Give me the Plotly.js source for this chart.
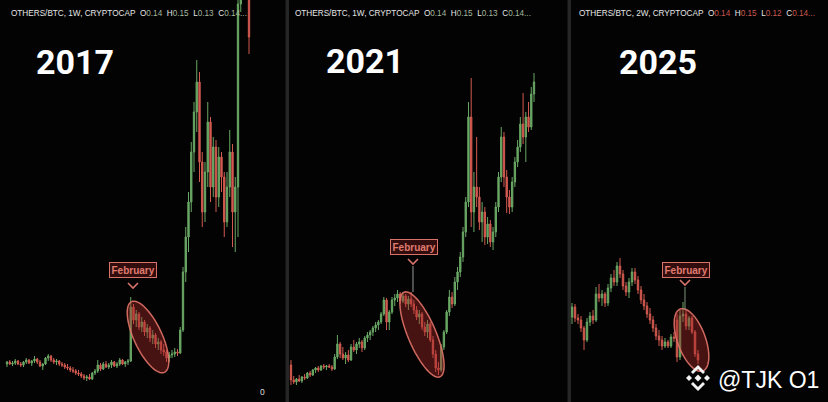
<!DOCTYPE html>
<html>
<head>
<meta charset="utf-8">
<script src="https://cdn.plot.ly/plotly-3.0.1.min.js"></script>
<style>
  html, body { margin: 0; padding: 0; background: #000; }
  #chart { width: 828px; height: 402px; }
</style>
</head>
<body>
<div id="chart"></div>
<script>
'use strict';

// values are read as height above the bottom edge of the picture
const p1Open = [38,40,38,39,41,38,37,40,42,39, 41,43,40,36,38,44,46,42,40,41, 38,37,35,34,32,31,29,28,26,24,
  25,23,29,31,37,33,38,35,37,40, 36,38,42,38,40,41,95,82,88,75, 80,70,74,64,67,58,60,52,50,44,
  47,48,50,49,72,130,165,200,250,290, 320,240,190,230,280,215,255,205,245,225, 180,215,250,190,215,398,450,470,440];
const p1High = [41,42,41,43,42,40,41,44,43,42, 46,44,42,39,45,48,47,44,43,42, 40,39,38,36,35,33,32,30,28,27,
  28,30,33,42,39,40,41,39,42,41, 40,44,43,41,43,105,98,92,90,85, 82,78,76,72,69,64,62,58,52,50,
  52,54,53,75,135,175,210,260,300,342, 330,250,240,300,285,265,262,255,250,230, 230,272,258,225,420,470,480,490,450];
const p1Low = [35,37,36,37,37,35,35,38,38,36, 39,38,35,32,37,41,40,38,37,36, 35,33,32,30,29,27,26,24,22,21,
  22,22,27,29,31,32,34,33,34,35, 34,36,37,35,37,40,78,75,72,70, 66,64,60,58,54,52,48,46,40,40,
  44,45,46,48,70,120,150,190,230,270, 220,175,180,215,200,205,190,195,210,165, 175,205,155,150,165,390,430,420,348];
const p1Close = [40,38,39,41,38,37,40,42,39,41, 43,40,36,38,44,46,42,40,41,38, 37,35,34,32,31,29,28,26,24,25,
  23,29,31,37,33,38,35,37,40,36, 38,42,38,40,41,95,82,88,75,80, 70,74,64,67,58,60,52,50,44,47,
  48,50,49,72,130,165,200,250,290,320, 240,190,230,280,215,255,205,245,225,180, 215,250,190,215,398,450,470,430,365];

const p2Open = [37,22,20,23,21,25,24,29,27,32, 34,32,36,35,36,35,33,45,58,48, 44,47,42,55,52,58,60,54,64,67,
  70,74,77,80,88,102,80,90,102,104, 108,101,106,98,103,98,92,85,88,75, 70,78,62,48,34,32,55,70,90,105,
  98,120,130,145,170,200,285,190,215,205, 180,190,165,178,160,170,195,225,265,225, 205,195,220,240,255,278,265,285,275,308];
const p2High = [42,26,24,27,26,28,30,31,33,35, 36,37,38,37,38,37,48,67,60,55, 50,52,58,62,60,64,62,66,70,72,
  76,80,82,90,105,104,92,105,108,112, 110,110,108,106,110,102,96,92,90,80, 82,80,66,52,40,58,72,92,112,110,
  125,135,150,175,205,300,324,230,265,215, 200,195,185,182,175,200,230,275,270,232, 212,225,245,262,285,309,290,300,315,329];
const p2Low = [17,18,17,20,19,22,23,25,26,29, 30,31,33,32,34,31,32,43,44,42, 38,40,41,50,48,54,50,52,60,62,
  66,70,72,78,86,72,72,88,96,100, 98,99,95,92,95,88,82,78,72,66, 64,60,44,30,27,30,52,68,86,94,
  96,112,125,140,165,195,175,170,195,172, 160,157,158,155,152,165,190,220,215,189, 188,190,215,235,250,258,240,270,272,300];
const p2Close = [22,20,23,21,25,24,29,27,32,34, 32,36,35,36,35,33,45,58,48,44, 47,42,55,52,58,60,54,64,67,70,
  74,77,80,88,102,80,90,102,104,108, 101,106,98,103,98,92,85,88,75,70, 78,62,48,34,32,55,70,90,105,98,
  120,130,145,170,200,285,190,215,205,180, 190,165,178,160,170,195,225,265,225,205, 195,220,240,255,278,265,285,275,308,320];

const p3Open = [85,95,84,82,74,62,80,86,82,108, 104,108,99,114,124,120,136,128,116,110, 120,130,122,112,102,96,88,82,74,66,
  62,56,60,56,65,82,45,86,88,76, 84,70,48];
const p3High = [99,98,88,86,76,84,90,92,115,118, 112,110,118,128,132,140,144,132,120,124, 134,134,126,116,108,100,94,86,78,72,
  66,64,62,68,70,88,92,100,92,86, 86,72,52];
const p3Low = [78,80,78,70,52,60,76,78,80,100, 96,95,96,110,116,116,124,112,106,104, 116,118,108,98,92,84,78,70,62,56,
  52,54,54,54,60,40,42,80,72,72, 68,45,38];
const p3Close = [95,84,82,74,62,80,86,82,108,104, 108,99,114,124,120,136,128,116,110,120, 130,122,112,102,96,88,82,74,66,62,
  56,60,56,65,64,45,86,88,76,84, 70,48,42];

const years = ['2017', '2021', '2025'];
const headers = [
  ['1W', '0.14', '0.15', '0.13', '0.14...'],
  ['1W', '0.14', '0.15', '0.13', '0.14...'],
  ['2W', '0.14', '0.15', '0.12', '0.14...']
];

const W = 828, H = 402;
const UP = '#6aa865', DOWN = '#d35a50';
const SALMON = '#d8736a';

function px(x) { return x / W; }
function py(row) { return 1 - row / H; }

function candles(o, h, l, c, xa, ya) {
  return {
    type: 'candlestick',
    x: c.map((_, i) => i),
    open: o, high: h, low: l, close: c,
    xaxis: xa, yaxis: ya,
    increasing: { line: { color: UP, width: 1 }, fillcolor: UP },
    decreasing: { line: { color: DOWN, width: 1 }, fillcolor: DOWN },
    hoverinfo: 'skip'
  };
}

function ellipsePath(cx, cy, a, b, tilt) {
  const t = tilt * Math.PI / 180;
  let d = '';
  for (let k = 0; k <= 60; k++) {
    const u = k / 60 * 2 * Math.PI;
    const ex = b * Math.cos(u), ey = a * Math.sin(u);
    const x = cx + ex * Math.cos(t) + ey * Math.sin(t);
    const y = cy - ex * Math.sin(t) + ey * Math.cos(t);
    d += (k === 0 ? 'M' : 'L') + px(x).toFixed(5) + ',' + py(y).toFixed(5);
  }
  return d + 'Z';
}

function poly(points) {
  return points.map((p, i) => (i === 0 ? 'M' : 'L') + px(p[0]).toFixed(5) + ',' + py(p[1]).toFixed(5)).join('');
}

function paperShape(path, extra) {
  return Object.assign({ type: 'path', xref: 'paper', yref: 'paper', path: path, layer: 'above' }, extra);
}

const data = [
  candles(p1Open, p1High, p1Low, p1Close, 'x', 'y'),
  candles(p2Open, p2High, p2Low, p2Close, 'x2', 'y2'),
  candles(p3Open, p3High, p3Low, p3Close, 'x3', 'y3')
];

const shapes = [
  { type: 'rect', xref: 'paper', yref: 'paper', x0: px(285.5), x1: px(289), y0: 0, y1: 1, fillcolor: '#262626', line: { width: 0 } },
  { type: 'rect', xref: 'paper', yref: 'paper', x0: px(567.5), x1: px(571), y0: 0, y1: 1, fillcolor: '#262626', line: { width: 0 } }
];

const ellipseStyle = { fillcolor: 'rgba(165,40,40,0.42)', line: { color: 'rgba(225,115,105,0.9)', width: 1.5 } };
shapes.push(paperShape(ellipsePath(148, 337, 39, 14, 25), ellipseStyle));
shapes.push(paperShape(ellipsePath(422, 334.5, 46, 14, 23), ellipseStyle));
shapes.push(paperShape(ellipsePath(691.5, 340, 33, 14, 20), ellipseStyle));

// chevrons under the February labels
[[133, 286], [413, 262], [685, 283]].forEach(function (p) {
  shapes.push(paperShape(poly([[p[0] - 5, p[1] - 3], [p[0], p[1] + 2], [p[0] + 5, p[1] - 3]]),
    { line: { color: SALMON, width: 1.6 } }));
});
shapes.push(paperShape(poly([[413, 266], [413, 292]]), { line: { color: '#9a9a9a', width: 1 } }));
shapes.push(paperShape(poly([[685, 287], [685, 310]]), { line: { color: '#7f977b', width: 1 } }));

// binance mark
const lx = 698, ly = 378;
const white = { fillcolor: '#f2f2f2', line: { width: 0 } };
shapes.push(paperShape(poly([[lx, ly - 3.5], [lx + 3.5, ly], [lx, ly + 3.5], [lx - 3.5, ly]]) + 'Z', white));
shapes.push(paperShape(poly([[lx - 9, ly - 3], [lx - 6, ly], [lx - 9, ly + 3], [lx - 12, ly]]) + 'Z', white));
shapes.push(paperShape(poly([[lx + 9, ly - 3], [lx + 12, ly], [lx + 9, ly + 3], [lx + 6, ly]]) + 'Z', white));
shapes.push(paperShape(poly([[lx, ly - 13], [lx + 7, ly - 6], [lx + 5, ly - 4], [lx, ly - 9], [lx - 5, ly - 4], [lx - 7, ly - 6]]) + 'Z', white));
shapes.push(paperShape(poly([[lx, ly + 13], [lx + 7, ly + 6], [lx + 5, ly + 4], [lx, ly + 9], [lx - 5, ly + 4], [lx - 7, ly + 6]]) + 'Z', white));

function headerText(hd, valColor) {
  const v = s => '<span style="color:' + valColor + '">' + s + '</span>';
  return 'OTHERS/BTC, ' + hd[0] + ', CRYPTOCAP&nbsp;&nbsp;O' + v(hd[1]) + '&nbsp;&nbsp;H' + v(hd[2]) +
    '&nbsp;&nbsp;L' + v(hd[3]) + '&nbsp;&nbsp;C' + v(hd[4]);
}

function note(x, row, text, font, extra) {
  return Object.assign({ xref: 'paper', yref: 'paper', x: px(x), y: py(row), text: text, showarrow: false,
    xanchor: 'center', yanchor: 'middle', font: font }, extra);
}

const headFont = { family: 'Liberation Sans, Arial, sans-serif', size: 8.2, color: '#e6e6e6' };
const yearFont = { family: 'Roboto, sans-serif', size: 34, color: '#ffffff', weight: 'bold' };
const febFont = { family: 'Liberation Sans, Arial, sans-serif', size: 10, color: '#e07b70', weight: 'bold' };
const febBox = { bordercolor: SALMON, borderwidth: 1, borderpad: 1.5, bgcolor: 'rgba(70,18,18,0.7)' };

const annotations = [
  note(9, 13, headerText(headers[0], '#a3b89e'), headFont, { xanchor: 'left' }),
  note(293, 13, headerText(headers[1], '#a3b89e'), headFont, { xanchor: 'left' }),
  note(577, 13, headerText(headers[2], '#c9584f'), headFont, { xanchor: 'left' }),
  note(75, 62, years[0], yearFont),
  note(365, 61, years[1], yearFont),
  note(658, 62, years[2], yearFont),
  note(132.5, 270, 'February', febFont, febBox),
  note(413.5, 247, 'February', febFont, febBox),
  note(685.5, 270, 'February', febFont, febBox),
  note(262, 392, '0', { family: 'Liberation Sans, Arial, sans-serif', size: 8.5, color: '#dddddd' }),
  note(716, 380, '@TJK O1', { family: 'Liberation Sans, Arial, sans-serif', size: 23, color: '#ffffff' }, { xanchor: 'left' })
];

const hidden = { visible: false, fixedrange: true };
const layout = {
  width: W, height: H,
  margin: { l: 0, r: 0, t: 0, b: 0 },
  paper_bgcolor: '#030303', plot_bgcolor: '#030303',
  showlegend: false,
  xaxis: Object.assign({ domain: [0, px(286)], range: [-2.545, 101.45], rangeslider: { visible: false } }, hidden),
  yaxis: Object.assign({ domain: [0, 1], range: [0, 402] }, hidden),
  xaxis2: Object.assign({ domain: [px(289), px(568)], range: [-0.727, 101.45], anchor: 'y2', rangeslider: { visible: false } }, hidden),
  yaxis2: Object.assign({ domain: [0, 1], range: [0, 402], anchor: 'x2' }, hidden),
  xaxis3: Object.assign({ domain: [px(571), 1], range: [-0.333, 85.33], anchor: 'y3', rangeslider: { visible: false } }, hidden),
  yaxis3: Object.assign({ domain: [0, 1], range: [0, 402], anchor: 'x3' }, hidden),
  shapes: shapes,
  annotations: annotations
};

Plotly.newPlot('chart', data, layout, { displayModeBar: false, staticPlot: true });
</script>
</body>
</html>
